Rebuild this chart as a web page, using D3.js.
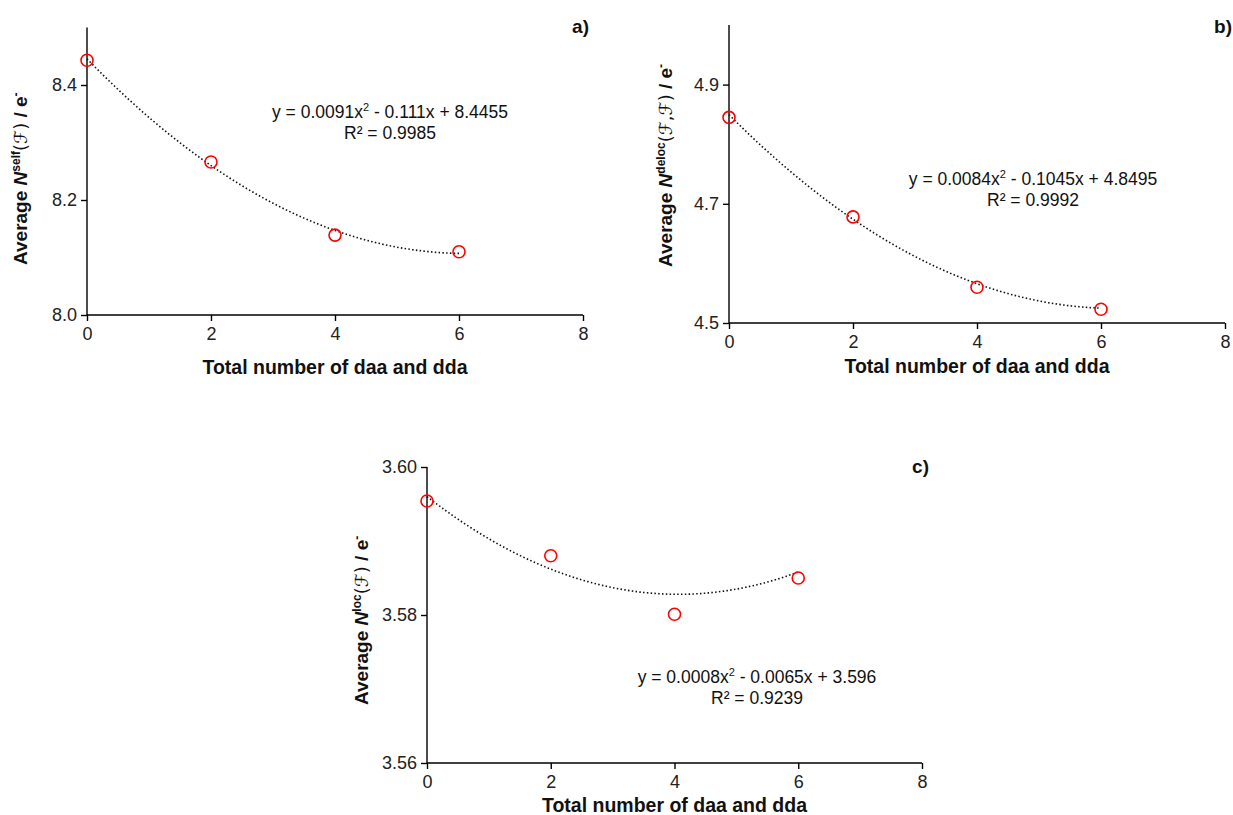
<!DOCTYPE html>
<html><head><meta charset="utf-8">
<script src="https://cdn.jsdelivr.net/npm/d3@7"></script>
<style>body{margin:0;background:#fff;} svg{display:block;font-family:"Liberation Sans",Arial,sans-serif;}</style>
</head><body>
<svg id="chart" width="1233" height="815"></svg>
<script>
const xValues = [0, 2, 4, 6];
const selfValues = [8.443, 8.266, 8.139, 8.110];
const delocValues = [4.845, 4.678, 4.560, 4.523];
const locValues = [3.5954, 3.5880, 3.5801, 3.5850];
const selfFit = [0.0091, -0.111, 8.4455];
const delocFit = [0.0084, -0.1045, 4.8495];
const locFit = [0.0008, -0.0065, 3.596];
const xTicks = [0, 2, 4, 6, 8];
const selfTicks = [8.0, 8.2, 8.4];
const delocTicks = [4.5, 4.7, 4.9];
const locTicks = [3.56, 3.58, 3.60];
const selfEq = ["y = 0.0091x", "2", " - 0.111x + 8.4455", "R² = 0.9985"];
const delocEq = ["y = 0.0084x", "2", " - 0.1045x + 4.8495", "R² = 0.9992"];
const locEq = ["y = 0.0008x", "2", " - 0.0065x + 3.596", "R² = 0.9239"];
const xTitle = "Total number of daa and dda";

const svg = d3.select("#chart");

const panels = [
  {vals: selfValues, fit: selfFit, ticks: selfTicks, eq: selfEq, dom: [8.0, 8.5], fmt: ".1f",
   xr: [87, 583], yr: [315, 27.5], sup: "self", arg: "(ℱ)", tag: "a)", tagPos: [589, 33],
   eqPos: [390, 118], yLab: [20, 265], xLabY: 374},
  {vals: delocValues, fit: delocFit, ticks: delocTicks, eq: delocEq, dom: [4.5, 5.0], fmt: ".1f",
   xr: [729, 1225], yr: [323, 25], sup: "deloc", arg: "(ℱ,ℱ)", tag: "b)", tagPos: [1232, 33],
   eqPos: [1033, 185], yLab: [665, 267], xLabY: 373},
  {vals: locValues, fit: locFit, ticks: locTicks, eq: locEq, dom: [3.56, 3.60], fmt: ".2f",
   xr: [427, 922], yr: [763, 467], sup: "loc", arg: "(ℱ)", tag: "c)", tagPos: [929, 473],
   eqPos: [757, 683], yLab: [361, 705], xLabY: 812}
];

panels.forEach(p => {
  const x = d3.scaleLinear().domain([0, 8]).range(p.xr);
  const y = d3.scaleLinear().domain(p.dom).range(p.yr);
  const g = svg.append("g");

  const xa = g.append("g").attr("transform", `translate(0,${p.yr[0]})`)
    .call(d3.axisBottom(x).tickValues(xTicks).tickSize(6).tickPadding(4).tickFormat(d3.format("d")));
  const ya = g.append("g").attr("transform", `translate(${p.xr[0]},0)`)
    .call(d3.axisLeft(y).tickValues(p.ticks).tickSize(6).tickPadding(4).tickFormat(d3.format(p.fmt)));
  [xa, ya].forEach(a => {
    a.attr("font-size", null).attr("font-family", null);
    a.select(".domain").attr("stroke", "#000").attr("stroke-width", 1.4);
    a.selectAll(".tick line").attr("stroke", "#000").attr("stroke-width", 1.4);
    a.selectAll(".tick text").attr("fill", "#222").style("font-size", "18px")
      .style("font-family", "Liberation Sans, Arial, sans-serif");
  });
  xa.selectAll(".tick text").attr("dy", "0.85em");
  ya.select(".domain").attr("d", `M0,${p.yr[0]}V${p.yr[1]}`);
  xa.select(".domain").attr("d", `M${p.xr[0]},0H${p.xr[1]}`);

  // trendline (polynomial fit shown in equation)
  const curve = d3.range(0, 6.0001, 0.05).map(t => [t, p.fit[0]*t*t + p.fit[1]*t + p.fit[2]]);
  g.append("path").datum(curve)
    .attr("d", d3.line().x(d => x(d[0])).y(d => y(d[1])))
    .attr("fill", "none").attr("stroke", "#111").attr("stroke-width", 1.6)
    .attr("stroke-dasharray", "1.5,2.3");

  // points
  g.selectAll("circle.pt").data(p.vals).join("circle").attr("class", "pt")
    .attr("cx", (d, i) => x(xValues[i])).attr("cy", d => y(d)).attr("r", 6)
    .attr("fill", "none").attr("stroke", "#ff0000").attr("stroke-width", 1.6);

  // equation
  const eq = g.append("text").attr("x", p.eqPos[0]).attr("y", p.eqPos[1])
    .attr("text-anchor", "middle").style("font-size", "17.5px").attr("fill", "#111");
  eq.append("tspan").text(p.eq[0]);
  eq.append("tspan").text(p.eq[1]).style("font-size", "11px").attr("dy", -7);
  eq.append("tspan").text(p.eq[2]).attr("dy", 7);
  g.append("text").attr("x", p.eqPos[0]).attr("y", p.eqPos[1] + 21)
    .attr("text-anchor", "middle").style("font-size", "17.5px").attr("fill", "#111").text(p.eq[3]);

  // x title
  g.append("text").attr("x", (p.xr[0] + p.xr[1]) / 2).attr("y", p.xLabY)
    .attr("text-anchor", "middle").style("font-size", "19.5px").style("font-weight", "bold")
    .attr("fill", "#111").text(xTitle);

  // y title
  const yt = g.append("text")
    .attr("transform", `translate(${p.yLab[0]},${p.yLab[1]}) rotate(-90)`)
    .attr("text-anchor", "start").attr("dy", "0.35em")
    .style("font-size", "19px").style("font-weight", "bold").attr("fill", "#111");
  yt.append("tspan").text("Average ");
  yt.append("tspan").text("N").style("font-style", "italic");
  yt.append("tspan").text(p.sup).style("font-size", "12px").attr("dy", -7);
  yt.append("tspan").text(p.arg).attr("dy", 7).style("font-weight", "normal")
    .style("font-family", "DejaVu Sans, sans-serif").style("font-size", "18px");
  yt.append("tspan").text(" / e");
  yt.append("tspan").text("-").style("font-size", "12px").attr("dy", -7);

  // panel tag
  g.append("text").attr("x", p.tagPos[0]).attr("y", p.tagPos[1]).attr("text-anchor", "end")
    .style("font-size", "19px").style("font-weight", "bold").attr("fill", "#111").text(p.tag);
});
</script>
</body></html>
